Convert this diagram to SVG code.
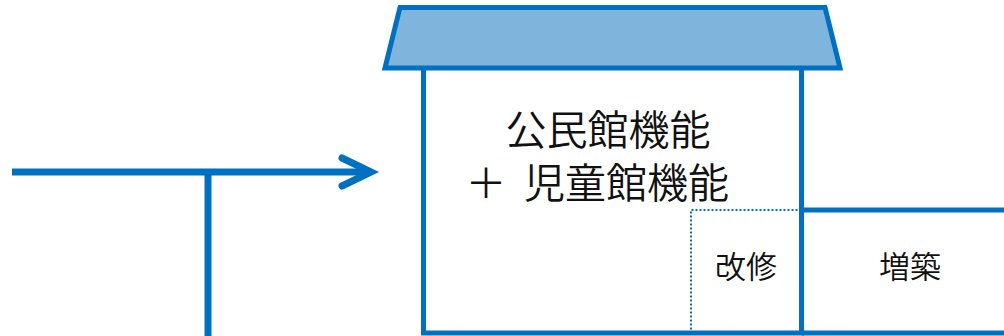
<svg xmlns="http://www.w3.org/2000/svg" width="1004" height="336" viewBox="0 0 1004 336">
<style>
.ln{fill:none;stroke:#0070C0;stroke-width:5}
.cn{fill:none;stroke:#0070C0;stroke-width:7}
.t{font-family:"Noto Sans CJK JP","Noto Sans CJK SC",sans-serif;fill:#111;font-weight:350}
</style>
<rect width="1004" height="336" fill="#fff"/>
<g id="connectors">
<line class="cn" x1="12" y1="172" x2="370" y2="172"/>
<polyline class="cn" points="342,158 371,172 342,186" stroke-linecap="round" stroke-linejoin="miter"/>
<line class="cn" x1="208" y1="172" x2="208" y2="340"/>
</g>
<g id="building">
<polygon class="ln" points="400,7.5 825,7.5 840,68 385,68" style="fill:#7FB4DD"/>
<path class="ln" d="M423.5,68 V333 H801.5 V68"/>
<text class="t" x="608" y="145" font-size="41" text-anchor="middle">公民館機能</text>
<text class="t" x="486" y="198" font-size="41" text-anchor="middle">＋</text>
<text class="t" x="729" y="198" font-size="41" text-anchor="end">児童館機能</text>
</g>
<g id="renovation">
<path d="M801.5,210 H691 V333" fill="none" stroke="#0070C0" stroke-width="2" stroke-dasharray="2 2"/>
<text class="t" x="746" y="278" font-size="31" text-anchor="middle">改修</text>
</g>
<g id="extension">
<path class="ln" d="M801.5,210 H1010 M801.5,333 H1010"/>
<text class="t" x="910" y="278" font-size="31" text-anchor="middle">増築</text>
</g>
</svg>
